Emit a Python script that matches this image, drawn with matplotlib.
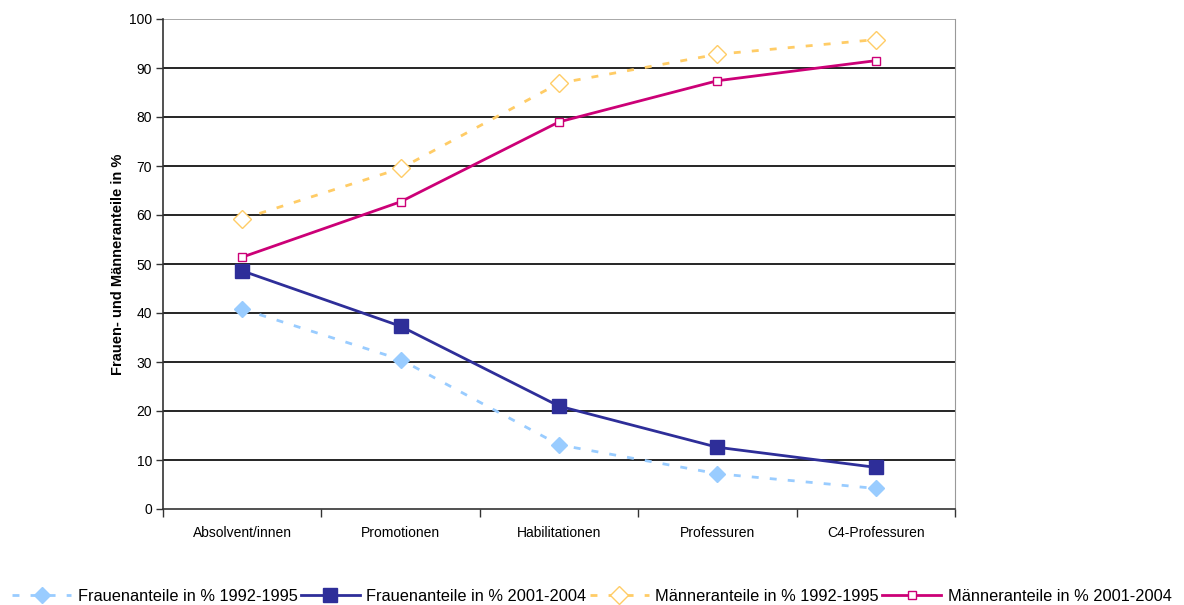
import matplotlib
matplotlib.use("Agg")
import matplotlib.pyplot as plt
import numpy as np

categories = ["Absolvent/innen", "Promotionen", "Habilitationen", "Professuren", "C4-Professuren"]
frauen_1992 = [40.8, 30.5, 13.1, 7.2, 4.2]
frauen_2001 = [48.6, 37.3, 21.0, 12.6, 8.5]
maenner_1992 = [59.2, 69.5, 86.9, 92.8, 95.8]
maenner_2001 = [51.4, 62.7, 79.0, 87.4, 91.5]
yticks = list(range(0, 101, 10))

plt.rcParams['font.family'] = ['Liberation Sans', 'DejaVu Sans']

fig = plt.figure(figsize=(11.84, 6.05), dpi=100)
ax = fig.add_axes([163/1184, 1-509/605, (955-163)/1184, (509-19)/605])

x = np.arange(len(categories)) + 0.5

ax.plot(x, frauen_1992, color='#99CCFF', lw=2, ls=(0, (2.5, 4)), marker='D', ms=8,
        mfc='#99CCFF', mec='#99CCFF', label='Frauenanteile in % 1992-1995', zorder=3)
ax.plot(x, frauen_2001, color='#2E2E99', lw=2, ls='-', marker='s', ms=10,
        mfc='#2E2E99', mec='#2E2E99', label='Frauenanteile in % 2001-2004', zorder=4)
ax.plot(x, maenner_1992, color='#FFCC66', lw=2, ls=(0, (2.5, 4)), marker='D', ms=9,
        mfc='white', mec='#FFCC66', mew=1, label='Männeranteile in % 1992-1995', zorder=3)
ax.plot(x, maenner_2001, color='#CC0077', lw=2, ls='-', marker='s', ms=6,
        mfc='white', mec='#CC0077', mew=1, label='Männeranteile in % 2001-2004', zorder=4)

ax.set_xlim(0, len(categories))
ax.set_ylim(0, 100)
ax.set_yticks(yticks)
ax.set_yticklabels([str(v) for v in yticks], fontsize=10)
ax.set_xticks(np.arange(len(categories)+1))
ax.set_xticklabels([])
ax.set_xticks(x, minor=True)
ax.set_xticklabels(categories, minor=True, fontsize=10)
ax.tick_params(axis='x', which='minor', length=0, pad=12)
ax.tick_params(axis='x', which='major', length=6, width=1, color='#333333', direction='out')
ax.tick_params(axis='y', length=5, width=1, color='#333333', direction='out', pad=3)

for v in yticks[1:-1]:
    ax.axhline(v, color='black', lw=1.2, zorder=1)
ax.axhline(100, color='#999999', lw=1.2, zorder=1)

ax.spines['top'].set_visible(False)
ax.spines['right'].set_color('#999999')
ax.spines['left'].set_color('#333333')
ax.spines['bottom'].set_color('#333333')
ax.spines['left'].set_linewidth(1.2)
ax.spines['bottom'].set_linewidth(1.2)

ax.set_ylabel('Frauen- und Männeranteile in %', fontsize=10.5, fontweight='bold', labelpad=3)

leg = fig.legend(loc='lower center', bbox_to_anchor=(0.5, -0.022), ncol=4, frameon=False,
                 fontsize=11.8, handlelength=3.6, columnspacing=0.2, handletextpad=0.4)

fig.savefig('out.png', dpi=100, facecolor='white')
